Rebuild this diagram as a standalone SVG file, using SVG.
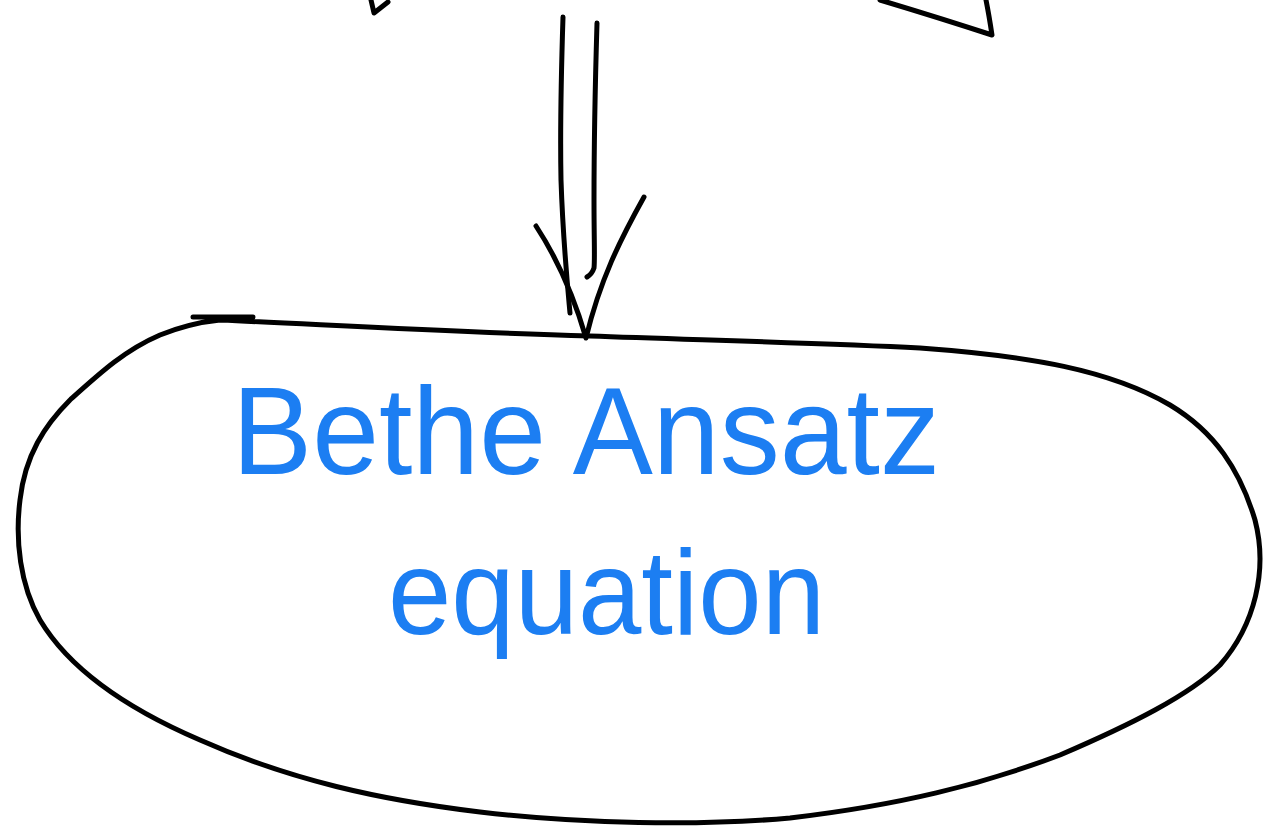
<svg xmlns="http://www.w3.org/2000/svg" width="1263" height="826" viewBox="0 0 1263 826">
<style>
.ink{fill:none;stroke:#000;stroke-width:5;stroke-linecap:round;stroke-linejoin:round}
.lbl{fill:#1c7ef2;font-family:"Liberation Sans","DejaVu Sans",sans-serif;font-weight:normal}
</style>
<rect width="1263" height="826" fill="#fff"/>
<g id="connectors">
<path class="ink" d="M371,0 L374,13 L388,2"/>
<path class="ink" d="M880,0 Q940,18 992,35 Q989,15 986,0"/>
<path class="ink" d="M563,17 C561,80 560,130 561,180 C563,240 567,280 570,313"/>
<path class="ink" d="M597,23 C595,90 594,150 594,200 C594,240 595,260 594,268 Q592,274 587,277"/>
<path class="ink" d="M536,226 C555,255 572,290 586,338 C600,280 620,240 644,197"/>
</g>
<g id="node-bethe">
<path class="ink" d="M193,317 L253,317 M220,320 C350,326 450,332 590,336 C700,340 820,343 920,348 C1030,356 1110,370 1170,405 C1215,432 1240,470 1255,520 C1268,570 1255,625 1220,665 C1190,695 1130,725 1060,755 C980,785 900,805 790,818 C700,826 580,824 480,812 C380,800 290,780 200,740 C130,710 70,670 40,620 C20,585 15,540 20,500 C25,455 45,425 70,400 C100,373 125,350 160,335 C180,327 200,322 220,320"/>
<text class="lbl" x="232" y="474" font-size="124" textLength="708" lengthAdjust="spacingAndGlyphs">Bethe Ansatz</text>
<text class="lbl" x="388" y="634" font-size="120" textLength="437" lengthAdjust="spacingAndGlyphs">equation</text>
</g>
</svg>
